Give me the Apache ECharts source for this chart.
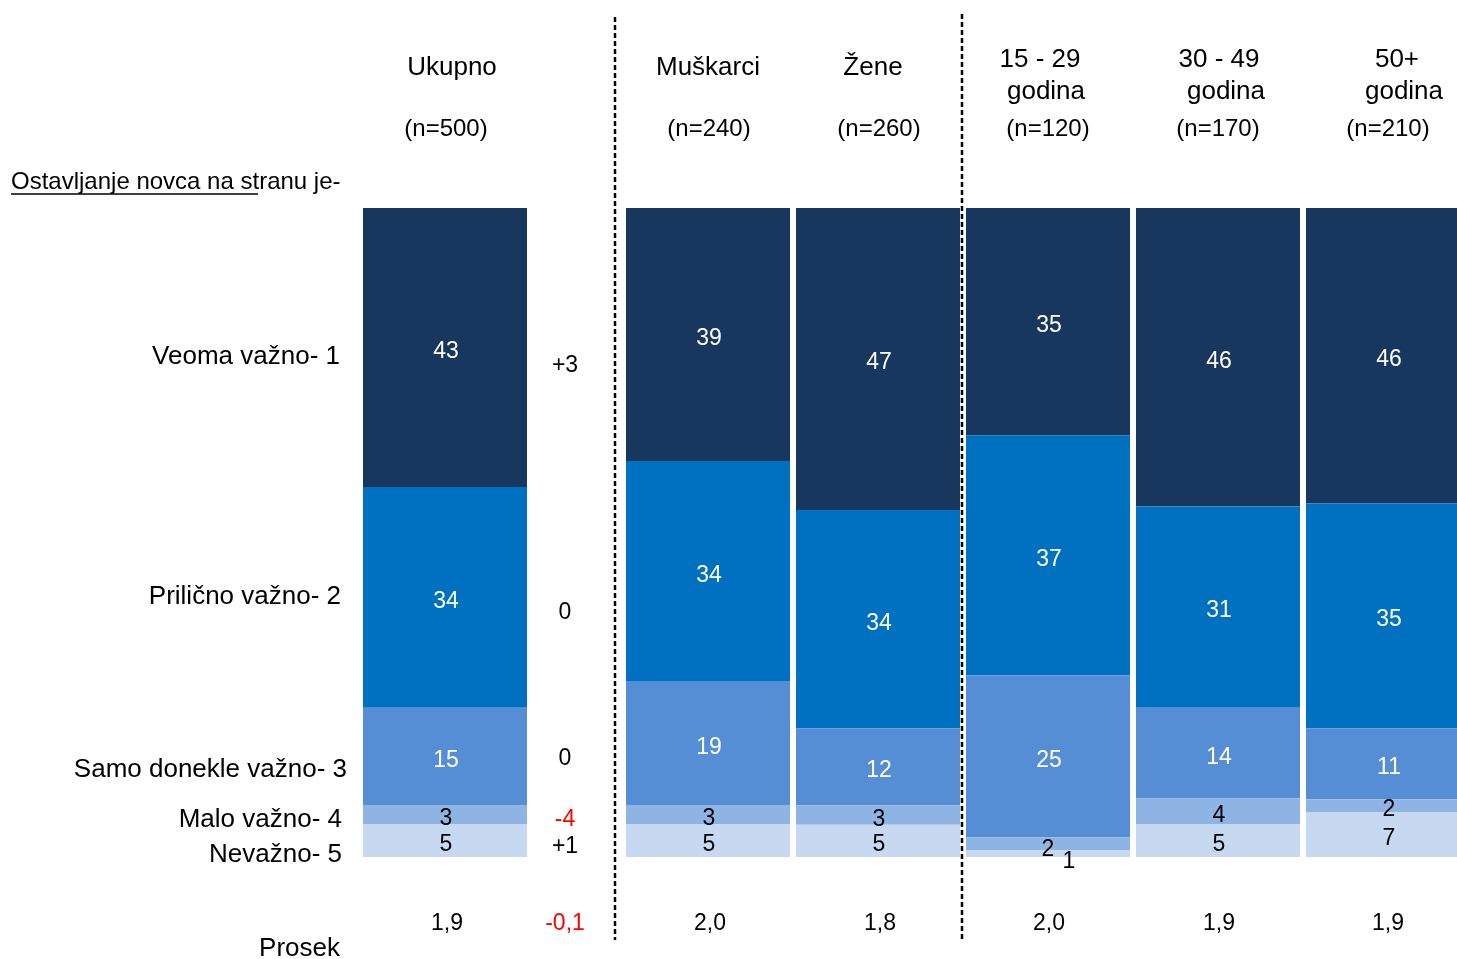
<!DOCTYPE html>
<html>
<head>
<meta charset="utf-8">
<script src="https://cdn.jsdelivr.net/npm/echarts@6/dist/echarts.min.js"></script>
<style>
  html, body { margin: 0; padding: 0; background: #fff; }
  #chart { width: 1457px; height: 959px; }
</style>
</head>
<body>
<div id="chart"></div>
<script>
// column headers
var groups = ['Ukupno', 'Muškarci', 'Žene', '15 - 29', '30 - 49', '50+'];
var groupLine2 = ['', '', '', 'godina', 'godina', 'godina'];
var sampleSizes = ['(n=500)', '(n=240)', '(n=260)', '(n=120)', '(n=170)', '(n=210)'];
var levels = ['Veoma važno- 1', 'Prilično važno- 2', 'Samo donekle važno- 3', 'Malo važno- 4', 'Nevažno- 5'];

// percentages per group (same order as groups)
var veomaVazno    = [43, 39, 47, 35, 46, 46];
var prilicnoVazno = [34, 34, 34, 37, 31, 35];
var samoDonekle   = [15, 19, 12, 25, 14, 11];
var maloVazno     = [3, 3, 3, 2, 4, 2];
var nevazno       = [5, 5, 5, 1, 5, 7];
var prosek        = ['1,9', '2,0', '1,8', '2,0', '1,9', '1,9'];

// change column next to Ukupno
var promena       = ['+3', '0', '0', '-4', '+1'];
var promenaProsek = '-0,1';

var FONT = "'Liberation Sans', Arial, sans-serif";
var colors = ['#17375e', '#0070c0', '#558ed5', '#8eb4e3', '#c6d9f1'];
var allLevels = [veomaVazno, prilicnoVazno, samoDonekle, maloVazno, nevazno];

// total per group, bars are drawn as share of 100
var totals = groups.map(function (g, j) {
  return allLevels.reduce(function (s, arr) { return s + arr[j]; }, 0);
});

// small segments whose labels are shifted like in the original
var labelShift = { '3-3': [0, 6], '4-3': [21, 8] };

var series = [];
[0, 1].forEach(function (gi) {
  allLevels.forEach(function (arr, li) {
    var from = gi === 0 ? 0 : 1, to = gi === 0 ? 1 : 6;
    var data = [];
    for (var j = from; j < to; j++) {
      var item = { value: arr[j] / totals[j] * 100, raw: arr[j] };
      var sh = labelShift[li + '-' + j];
      if (sh) item.label = { offset: sh };
      data.push(item);
    }
    series.push({
      type: 'bar',
      xAxisIndex: gi,
      yAxisIndex: gi,
      stack: 'g' + gi,
      barWidth: 164,
      silent: true,
      itemStyle: { color: colors[li] },
      label: {
        show: true,
        position: 'inside',
        offset: [1, 4],
        color: li < 3 ? '#fff' : '#000',
        fontSize: 23,
        fontFamily: FONT,
        formatter: function (p) { return p.data.raw; }
      },
      data: data
    });
  });
});

// text layout
var headerX = [452, 708, 873, 1040, 1219, 1397];
var line2X  = [0, 0, 0, 1046, 1226, 1404];
var nX      = [446, 709, 879, 1048, 1218, 1388];
var prosekX = [447, 710, 880, 1049, 1219, 1388];
var levelY  = [357, 597, 770, 820, 855];
var levelR  = [340, 341, 347, 342, 342];
var promenaY = [366, 613, 759, 820, 847];

function txt(text, x, y, size, align, color) {
  return {
    type: 'text',
    silent: true,
    style: {
      text: text, x: x, y: y,
      fontSize: size, fontFamily: FONT,
      fill: color || '#000',
      align: align || 'center', verticalAlign: 'middle'
    }
  };
}

var graphics = [];
groups.forEach(function (g, j) {
  if (groupLine2[j]) {
    graphics.push(txt(g, headerX[j], 60, 26));
    graphics.push(txt(groupLine2[j], line2X[j], 92, 26));
  } else {
    graphics.push(txt(g, headerX[j], 68, 26));
  }
  graphics.push(txt(sampleSizes[j], nX[j], 129, 24));
  graphics.push(txt(prosek[j], prosekX[j], 924, 23));
});
levels.forEach(function (l, i) {
  graphics.push(txt(l, levelR[i], levelY[i], 26, 'right'));
  graphics.push(txt(promena[i], 565, promenaY[i], 23, 'center',
    promena[i].charAt(0) === '-' ? '#ff0000' : '#000'));
});
graphics.push(txt(promenaProsek, 565, 924, 23, 'center', '#ff0000'));
graphics.push(txt('Prosek', 340, 949, 26, 'right'));
graphics.push(txt('Ostavljanje novca na stranu je-', 11, 182, 24, 'left'));
graphics.push({ type: 'line', silent: true, shape: { x1: 11, y1: 194, x2: 258, y2: 194 }, style: { stroke: '#000', lineWidth: 1.5 } });
graphics.push({ type: 'line', silent: true, shape: { x1: 615, y1: 17, x2: 615, y2: 940 }, style: { stroke: '#000', lineWidth: 2.5, lineDash: [5, 3] } });
graphics.push({ type: 'line', silent: true, shape: { x1: 962, y1: 14, x2: 962, y2: 940 }, style: { stroke: '#000', lineWidth: 2.5, lineDash: [5, 3] } });

var chart = echarts.init(document.getElementById('chart'));
chart.setOption({
  backgroundColor: '#fff',
  animation: false,
  grid: [
    { left: 363, top: 208, width: 164, height: 649, outerBoundsMode: 'none' },
    { left: 623, top: 208, width: 850, height: 649, outerBoundsMode: 'none' }
  ],
  xAxis: [
    { type: 'category', gridIndex: 0, data: groups.slice(0, 1), show: false },
    { type: 'category', gridIndex: 1, data: groups.slice(1), show: false }
  ],
  yAxis: [
    { type: 'value', gridIndex: 0, min: 0, max: 100, inverse: true, show: false },
    { type: 'value', gridIndex: 1, min: 0, max: 100, inverse: true, show: false }
  ],
  series: series,
  graphic: graphics
});
</script>
</body>
</html>
